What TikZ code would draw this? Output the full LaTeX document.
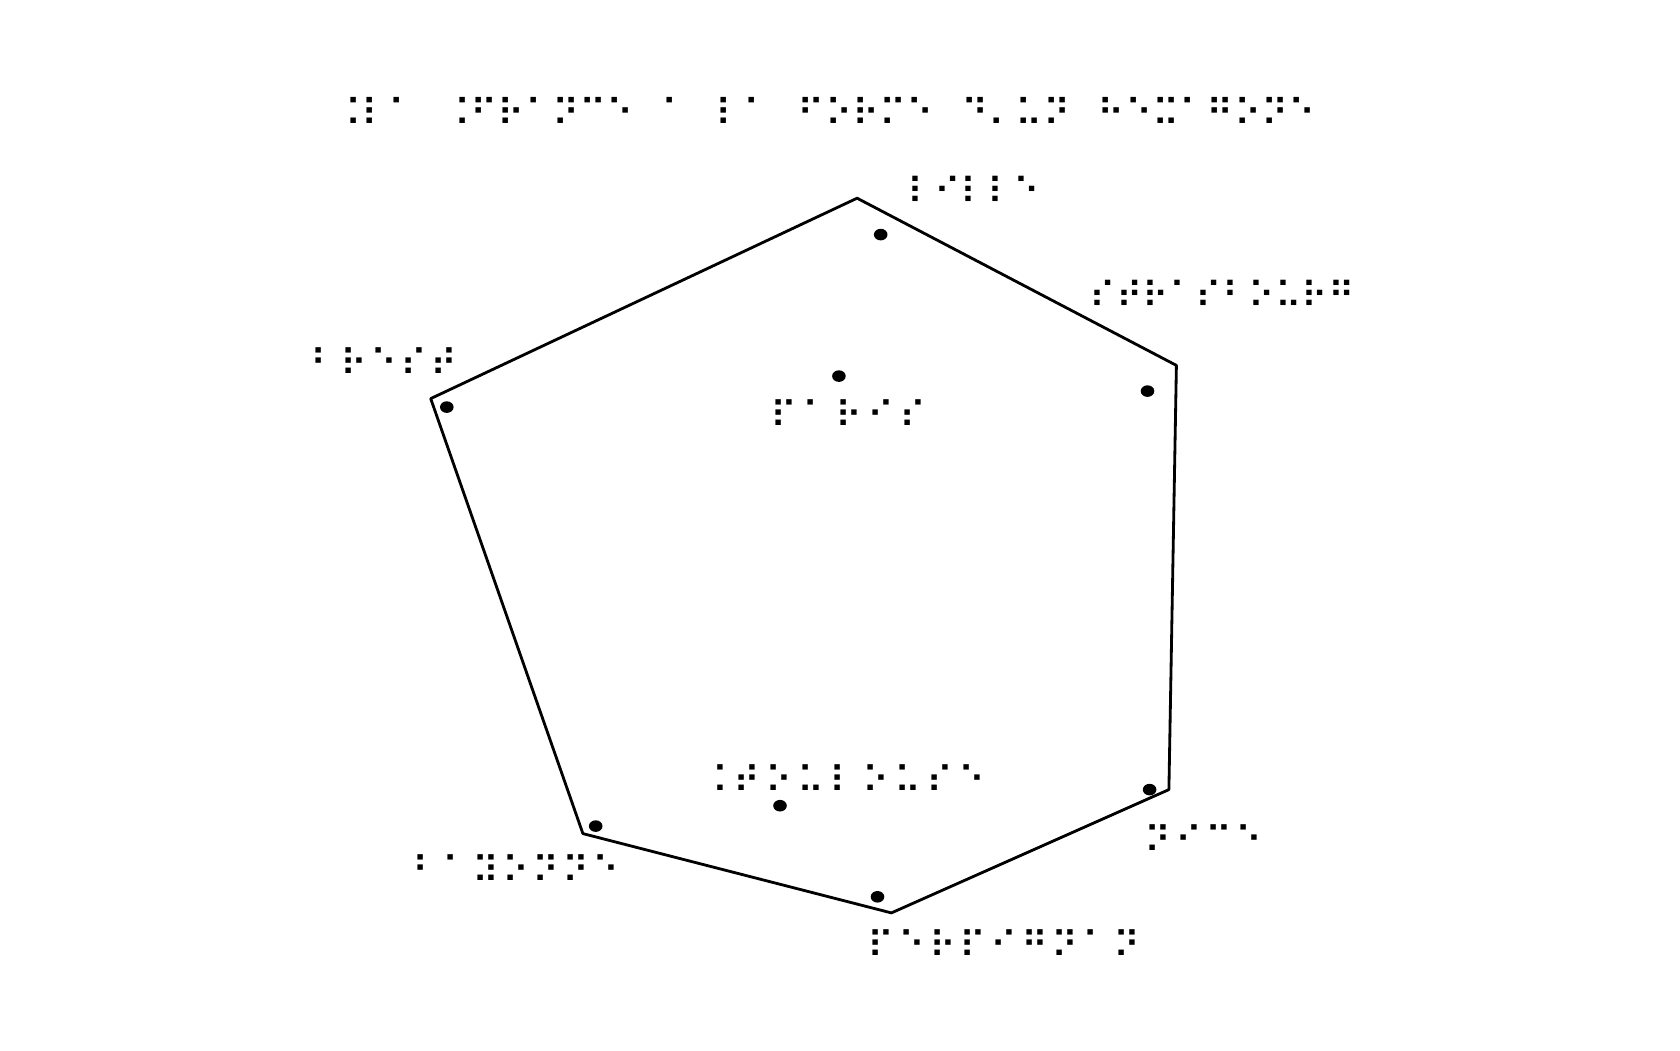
\documentclass[tikz,border=0pt]{standalone}
\usepackage{fontspec}
\newfontfamily\braille{DejaVu Sans}
\tikzset{
  ville/.style={fill=black},
  etiquette/.style={anchor=base west, inner sep=0pt, font=\braille\fontsize{#1}{12}\selectfont},
  etiquette/.default=10.5,
  ecart/.style={font=\braille\fontsize{10.5}{12}\selectfont\addfontfeature{LetterSpace=#1}},
}
\begin{document}
\begin{tikzpicture}[line join=round, line cap=round]
  \useasboundingbox (0,0) rectangle (16.8,10.5);
  % l'hexagone
  \coordinate (N) at (8.571,8.518);
  \coordinate (NE) at (11.764,6.846);
  \coordinate (SE) at (11.689,2.604);
  \coordinate (S) at (8.914,1.371);
  \coordinate (SO) at (5.829,2.164);
  \coordinate (O) at (4.307,6.514);
  \draw[line width=0.8pt] (N)--(NE)--(SE)--(S)--(SO)--(O)--cycle;
  % villes
  \foreach \v/\x/\y in {lille/8.807/8.154, strasbourg/11.475/6.589, nice/11.496/2.604, perpignan/8.775/1.532, bayonne/5.957/2.239, brest/4.468/6.429, paris/8.389/6.739, toulouse/7.800/2.443}
    \fill[ville] (\x,\y) coordinate(\v) ellipse (0.068 and 0.058);
  % textes
  \node[etiquette=10.6] (titre) at (3.335,9.23) {⠨⠇⠁⠀⠨⠋⠗⠁⠝⠉⠑⠀⠁⠀⠇⠁⠀⠋⠕⠗⠍⠑⠀⠙⠄⠥⠝⠀⠓⠑⠭⠁⠛⠕⠝⠑};
  \node[etiquette=10.3] (t-lille) at (9.07,8.45) {⠇⠊⠇⠇⠑};
  \node[etiquette=10.3] (t-strasbourg) at (10.89,7.42) {⠎⠞⠗⠁⠎⠃⠕⠥⠗⠛};
  \node[etiquette, ecart=8] (t-brest) at (3.10,6.735) {⠃⠗⠑⠎⠞};
  \node[etiquette, ecart=14] (t-paris) at (7.70,6.22) {⠏⠁⠗⠊⠎};
  \node[etiquette, ecart=14] (t-toulouse) at (7.005,2.57) {⠨⠞⠕⠥⠇⠕⠥⠎⠑};
  \node[etiquette, ecart=9] (t-nice) at (11.44,1.97) {⠝⠊⠉⠑};
  \node[etiquette, ecart=8] (t-bayonne) at (4.12,1.67) {⠃⠁⠽⠕⠝⠝⠑};
  \node[etiquette, ecart=10] (t-perpignan) at (8.67,0.92) {⠏⠑⠗⠏⠊⠛⠝⠁⠝};
\end{tikzpicture}
\end{document}
